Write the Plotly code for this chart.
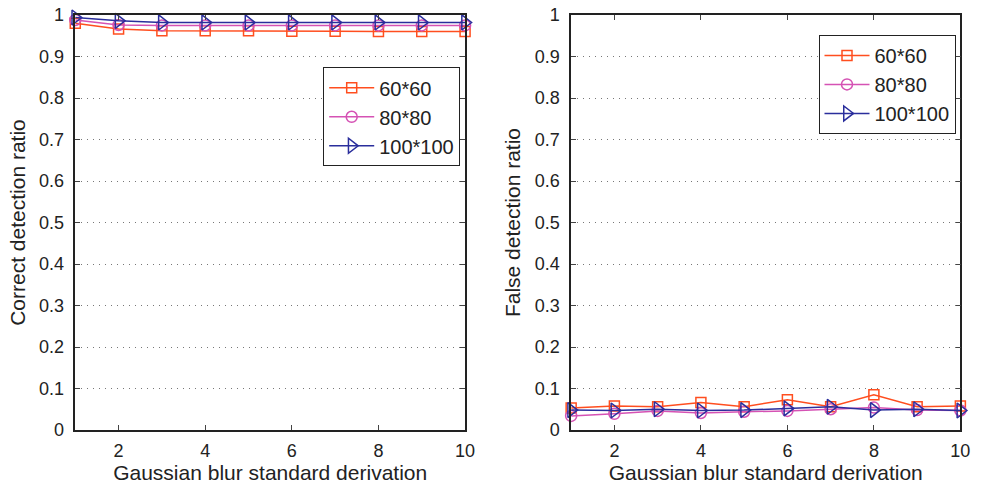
import plotly.graph_objects as go

x = [1, 2, 3, 4, 5, 6, 7, 8, 9, 10]
series_names = ["60*60", "80*80", "100*100"]
correct_60 = [0.980, 0.966, 0.962, 0.962, 0.962, 0.961, 0.961, 0.960, 0.960, 0.960]
correct_80 = [0.988, 0.976, 0.975, 0.975, 0.975, 0.975, 0.975, 0.975, 0.975, 0.975]
correct_100 = [0.994, 0.986, 0.982, 0.982, 0.982, 0.982, 0.982, 0.982, 0.982, 0.982]
false_60 = [0.053, 0.058, 0.056, 0.066, 0.056, 0.073, 0.056, 0.085, 0.056, 0.058]
false_80 = [0.034, 0.039, 0.046, 0.041, 0.044, 0.046, 0.050, 0.054, 0.048, 0.047]
false_100 = [0.048, 0.047, 0.050, 0.047, 0.048, 0.052, 0.056, 0.048, 0.050, 0.047]
y_ticks = [0, 0.1, 0.2, 0.3, 0.4, 0.5, 0.6, 0.7, 0.8, 0.9, 1]
y_ticklabels = ["0", "0.1", "0.2", "0.3", "0.4", "0.5", "0.6", "0.7", "0.8", "0.9", "1"]
x_ticks = [2, 4, 6, 8, 10]

colors = ["#FF4E1F", "#D552B4", "#2A2E9C"]
symbols = ["square-open", "circle-open", "triangle-right-open"]
sizes = [10, 11, 13]

fig = go.Figure()
left = [correct_60, correct_80, correct_100]
right = [false_60, false_80, false_100]
for i in range(3):
    fig.add_trace(go.Scatter(x=x, y=left[i], name=series_names[i], mode="lines+markers",
                             line=dict(color=colors[i], width=1.5),
                             marker=dict(symbol=symbols[i], size=sizes[i], color=colors[i], line=dict(width=1.5)),
                             xaxis="x", yaxis="y", legend="legend", cliponaxis=False))
for i in range(3):
    fig.add_trace(go.Scatter(x=x, y=right[i], name=series_names[i], mode="lines+markers",
                             line=dict(color=colors[i], width=1.5),
                             marker=dict(symbol=symbols[i], size=sizes[i], color=colors[i], line=dict(width=1.5)),
                             xaxis="x2", yaxis="y2", legend="legend2", cliponaxis=False))

font = "Liberation Sans, Arial, sans-serif"
common_x = dict(range=[1, 10], tickvals=x_ticks, ticks="inside", ticklen=5, showline=True,
                linecolor="#222", linewidth=1.5, mirror="ticks", showgrid=False, zeroline=False,
                ticklabelstandoff=4,
                tickfont=dict(size=18, color="#222", family=font),
                title=dict(text="Gaussian blur standard derivation", font=dict(size=21, color="#222", family=font), standoff=4))
common_y = dict(range=[0, 1], tickvals=y_ticks, ticktext=y_ticklabels, ticks="inside", ticklen=5, showline=True,
                linecolor="#222", linewidth=1.5, mirror="ticks", showgrid=True, gridcolor="#777",
                griddash="1px,5px", gridwidth=1, zeroline=False, ticklabelstandoff=6,
                tickfont=dict(size=18, color="#222", family=font))

legend_common = dict(bgcolor="white", bordercolor="#222", borderwidth=1,
                     font=dict(size=20, color="#222", family=font), xanchor="right", yanchor="top",
                     tracegroupgap=0, itemwidth=45)

fig.update_layout(
    width=985, height=486, margin=dict(l=0, r=0, t=15, b=56),
    paper_bgcolor="white", plot_bgcolor="white",
    xaxis=dict(domain=[0.0772, 0.477], anchor="y", **common_x),
    yaxis=dict(domain=[0, 1], anchor="x",
               title=dict(text="Correct detection ratio", font=dict(size=21, color="#222", family=font), standoff=8),
               **common_y),
    xaxis2=dict(domain=[0.5858, 0.985], anchor="y2", **common_x),
    yaxis2=dict(domain=[0, 1], anchor="x2",
                title=dict(text="False detection ratio", font=dict(size=21, color="#222", family=font), standoff=8),
                **common_y),
    legend=dict(x=0.472, y=0.874, **legend_common),
    legend2=dict(x=0.98, y=0.952, **legend_common),
    showlegend=True,
)

fig.write_html("out.html")
